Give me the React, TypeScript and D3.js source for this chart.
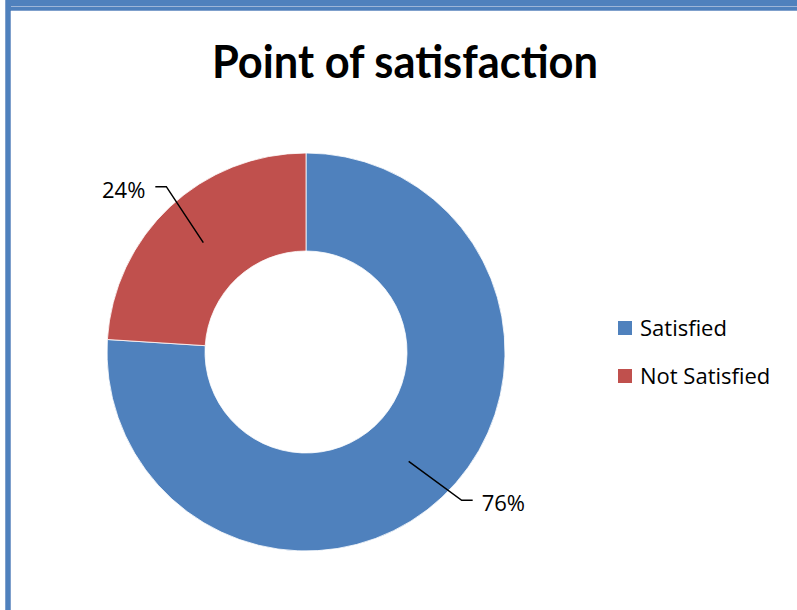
import React from "react";
import * as d3 from "d3";

const categories = ["Satisfied", "Not Satisfied"];
const values = [76, 24];
const colors = ["#4F81BD", "#C0504D"];
const labels = ["76%", "24%"];
const title = "Point of satisfaction";

const W = 797;
const H = 610;
const FONT = "Lato, 'Open Sans', 'DejaVu Sans', sans-serif";
const FONT2 = "'Open Sans', Lato, 'DejaVu Sans', sans-serif";

export default function App() {
  const cx = 306;
  const cy = 352;
  const outerR = 199;
  const innerR = 101;
  const pie = d3.pie<number>().sort(null).value((d) => d);
  const arcs = pie(values);
  const arcGen = d3.arc<d3.PieArcDatum<number>>().innerRadius(innerR).outerRadius(outerR);
  const labelOffsets = [
    { elbow: [53, 39], end: [64, 39], anchor: "start", tx: 73, ty: 50 },
    { elbow: [-37, -56], end: [-48, -56], anchor: "end", tx: -58, ty: -45 },
  ];

  return (
    <svg width={W} height={H} style={{ position: "absolute", left: 0, top: 0, background: "#fff" }}>
      {/* border */}
      <rect x={5} y={0} width={W - 5} height={11} fill="#4F81BD" />
      <rect x={5} y={6} width={W - 5} height={1} fill="#9DB6D8" />
      <rect x={5} y={10} width={W - 5} height={1} fill="#7FA0CC" />
      <rect x={5} y={0} width={6} height={H} fill="#4F81BD" />
      <rect x={5} y={0} width={1} height={H} fill="#7FA0CC" />
      <rect x={10} y={11} width={1} height={H} fill="#7FA0CC" />

      <text x={405} y={78} textAnchor="middle" fontFamily={FONT} fontWeight="bold" fontSize={45}
        textLength={386} lengthAdjust="spacingAndGlyphs" fill="#000">{title}</text>

      <g transform={`translate(${cx},${cy})`}>
        {arcs.map((a, i) => (
          <path key={i} d={arcGen(a) || ""} fill={colors[i]} stroke="#ffffff" strokeWidth={0.8} />
        ))}
        {arcs.map((a, i) => {
          const [x, y] = arcGen.centroid(a);
          const o = labelOffsets[i];
          return (
            <g key={"l" + i}>
              <polyline
                points={`${x},${y} ${x + o.elbow[0]},${y + o.elbow[1]} ${x + o.end[0]},${y + o.end[1]}`}
                fill="none" stroke="#000" strokeWidth={1.5} />
              <text x={x + o.tx} y={y + o.ty} textAnchor={o.anchor as any} fontFamily={FONT2} fontSize={22} fill="#000">{labels[i]}</text>
            </g>
          );
        })}
      </g>

      {categories.map((c, i) => (
        <g key={c} transform={`translate(618,${321 + i * 48})`}>
          <rect x={0} y={0} width={14} height={14} fill={colors[i]} />
          <text x={22} y={15} fontFamily={FONT2} fontSize={22} fill="#000">{c}</text>
        </g>
      ))}
    </svg>
  );
}
